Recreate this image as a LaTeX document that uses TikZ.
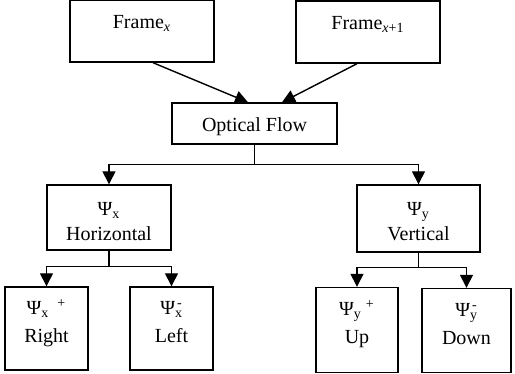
\documentclass[tikz,border=0pt]{standalone}
\usepackage{fontspec}
\setmainfont{Liberation Serif}
\usetikzlibrary{arrows.meta,calc}
\begin{document}
\begin{tikzpicture}[x=0.5pt, y=-0.5pt, line width=0.7pt, -{Triangle[length=6.5pt,width=6.5pt]},
    main node/.style={draw, -, inner sep=0pt, minimum width=72pt, text height=14.5pt, text depth=16.5pt, font=\fontsize{10}{12}\selectfont},
    sub node/.style={draw, -, inner sep=0pt, align=center, text height=28pt, font=\fontsize{10}{12.5}\selectfont},
    leaf node/.style={sub node, minimum width=41.5pt, text depth=13.5pt, font=\fontsize{10}{14}\selectfont}]
    \useasboundingbox (0,0) rectangle (515,374);
    \node[main node] (1) at (142,31) {Frame\textsubscript{\textit{x}}};
    \node[main node] (2) at (368,32) {Frame\textsubscript{\textit{x}+1}};
    \node[main node, minimum width=82.5pt, text depth=6pt] (3) at (254.5,123.5) {Optical Flow};
    \node[sub node, minimum width=62pt, text depth=4.5pt] (4) at (109,217.5) {Ψ\textsubscript{x}\\Horizontal};
    \node[sub node, minimum width=61.5pt, text depth=5.5pt] (5) at (418.5,218.5) {Ψ\textsubscript{y}\\Vertical};
    \node[leaf node] (6) at (46.5,328.5) {Ψ\textsubscript{x}\hspace{4pt}\textsuperscript{+}\\Right};
    \node[leaf node] (7) at (171.5,328.5) {Ψ\rlap{\textsubscript{x}}\textsuperscript{\kern1pt-}\\Left};
    \node[leaf node, minimum width=41pt, text depth=14.5pt] (8) at (357,330) {Ψ\textsubscript{y}\hspace{2pt}\textsuperscript{+}\\Up};
    \node[leaf node, minimum width=44.5pt, text depth=14pt] (9) at (466.5,330.5) {Ψ\rlap{\textsubscript{y}}\textsuperscript{\kern1pt-}\\Down};
    % frames into optical flow
    \draw ($(1.south)+(11,0)$) -- ($(3.north)+(-6.5,0)$);
    \draw ($(2.south)+(-11,0)$) -- ($(3.north)+(27.5,0)$);
    % branches
    \coordinate (a) at ($(3.south)+(0,20)$);
    \coordinate (b) at ($(4.south)+(0,16)$);
    \coordinate (c) at ($(5.south)+(0,15)$);
    \draw[-] (3) -- (a);
    \draw (a) -| (4);
    \draw (a) -| (5);
    \draw[-] (4) -- (b);
    \draw (b) -| (6);
    \draw (b) -| (7);
    \draw[-] (5) -- (c);
    \draw (c) -| (8);
    \draw (c) -| (9);
\end{tikzpicture}
\end{document}
